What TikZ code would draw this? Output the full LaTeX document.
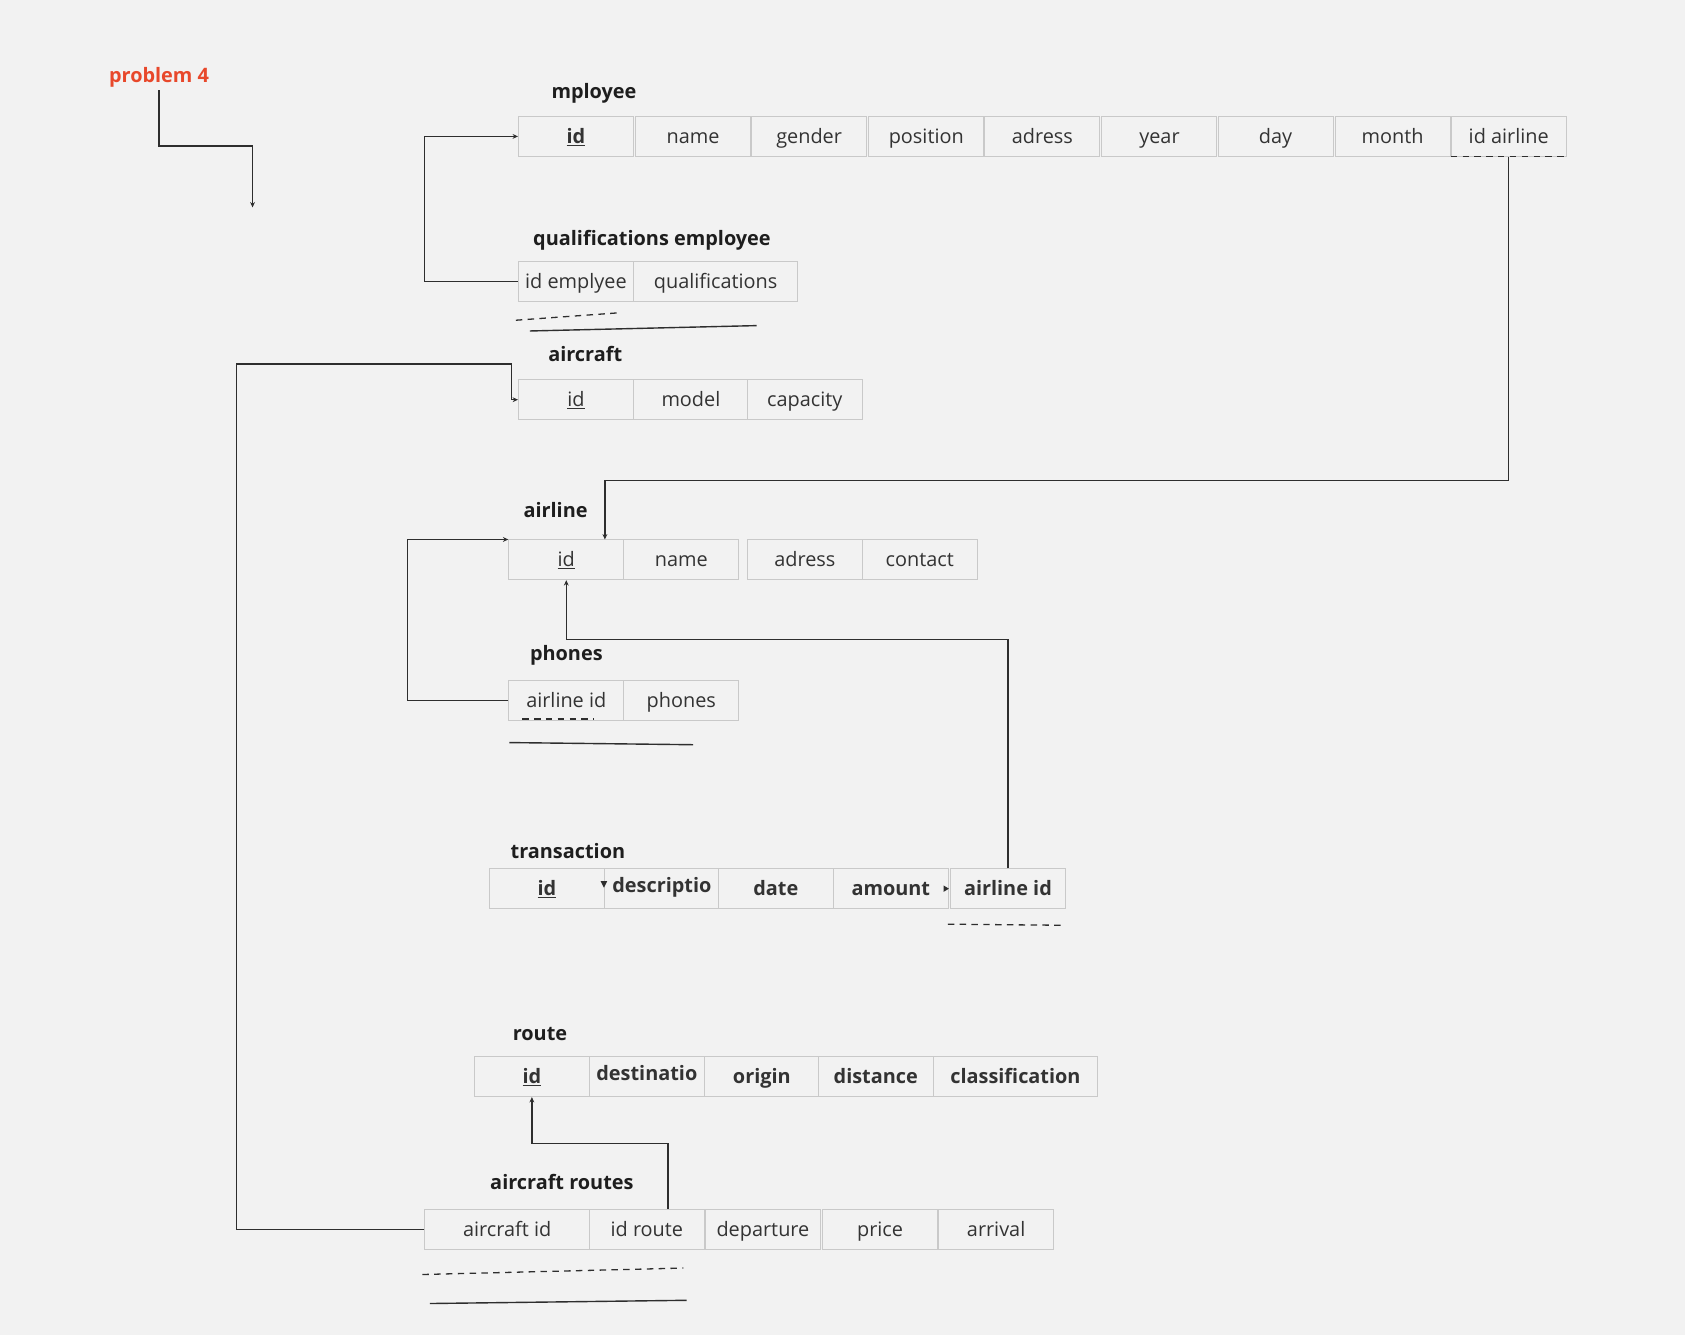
\documentclass[tikz,border=0pt]{standalone}
\usepackage{fontspec}
\setmainfont{Open Sans}
\usetikzlibrary{arrows.meta,calc}
\definecolor{bgcol}{HTML}{F2F2F2}
\definecolor{cellline}{HTML}{C9C9C9}
\definecolor{txtcol}{HTML}{333333}
\definecolor{headcol}{HTML}{1E1E1E}
\definecolor{linecol}{HTML}{2E2E2E}
\definecolor{redtitle}{HTML}{E8482B}
\tikzset{
  cell/.style={draw=cellline, line width=0.9pt, fill=bgcol, anchor=north west,
    minimum width=107pt, minimum height=37pt, inner sep=0pt, text=txtcol,
    text height=14.5pt, text depth=1.5pt,
    font=\fontsize{18.5pt}{22pt}\selectfont},
  widecell/.style={cell, minimum width=153pt},
  bcell/.style={cell, font=\fontsize{18.5pt}{22pt}\selectfont\bfseries},
  tabtitle/.style={anchor=west, inner sep=0pt, text=headcol,
    text height=14.5pt, text depth=1.5pt,
    font=\fontsize{18.5pt}{22pt}\selectfont\bfseries},
  conn/.style={draw=linecol, line width=1.4pt},
  connarrow/.style={conn, -{Stealth[length=5pt,width=4.5pt]}},
  keydash/.style={draw=linecol, line width=1.2pt, dash pattern=on 6pt off 5pt},
  keyline/.style={draw=linecol, line width=1.3pt},
  tip/.style={draw=none, fill=linecol}
}
\begin{document}
\begin{tikzpicture}[x=1pt, y=-1pt]
\fill[bgcol] (0,0) rectangle (1568,1242);
\useasboundingbox (0,0) rectangle (1568,1242);

% heading
\node[anchor=base, inner sep=0pt, text=redtitle,
  font=\fontsize{18.5pt}{22pt}\selectfont\bfseries] (prob) at (148,77) {problem 4};
\coordinate (probend) at (235,193);
\draw[connarrow] ($(prob.base)+(0,7)$) -- ++(0,52) -| (probend);

% employee
\node[tabtitle] (temp) at (513,85) {mployee};
\node[cell] (e1) at (482,108) {\textbf{\underline{id}}};
\node[cell] (e2) at (591,108) {name};
\node[cell] (e3) at (699,108) {gender};
\node[cell] (e4) at (808,108) {position};
\node[cell] (e5) at (916,108) {adress};
\node[cell] (e6) at (1025,108) {year};
\node[cell] (e7) at (1133,108) {day};
\node[cell] (e8) at (1242,108) {month};
\node[cell] (e9) at (1350,108) {id airline};
\draw[keydash] (e9.south west) -- (e9.south east);

% qualifications employee
\node[tabtitle] (tqe) at (496,222) {qualifications employee};
\node[cell] (q1) at (482,243) {id emplyee};
\node[widecell] (q2) at (589,243) {qualifications};
\draw[keydash] (480,298) -- (577,291);
\draw[keyline] (493,308) -- (704,303);

% aircraft
\node[tabtitle] (tac) at (510,330) {aircraft};
\node[cell] (c1) at (482,353) {\underline{id}};
\node[cell] (c2) at (589,353) {model};
\node[cell] (c3) at (695,353) {capacity};

% airline
\node[tabtitle] (tal) at (487,475) {airline};
\node[cell] (a1) at (473,502) {\underline{id}};
\node[cell] (a2) at (580,502) {name};
\node[cell] (a3) at (695,502) {adress};
\node[cell] (a4) at (802,502) {contact};

% phones
\node[tabtitle] (tph) at (493,608) {phones};
\node[cell] (p1) at (473,633) {airline id};
\node[cell] (p2) at (580,633) {phones};
\draw[keydash] (486,669) -- (553,669);
\draw[keyline] (474,691) -- (645,693);

% transaction
\node[tabtitle] (ttr) at (475,792) {transaction};
\node[bcell] (t1) at (455,808) {\underline{id}};
\node[bcell] (t2) at (562,808) {\raisebox{3pt}{descriptio}};
\node[bcell] (t3) at (668,808) {date};
\node[bcell] (t4) at (775,808) {amount};
\node[bcell] (t5) at (884,808) {airline id};
\draw[keydash] (882,860) -- (988,861);
\fill[tip] ($(t2.north west)+(-3,12)$) -- ++(6,0) -- ++(-3,6) -- cycle;
\fill[tip] ($(t5.west)+(-6,-3)$) -- ++(0,6) -- ++(5,-3) -- cycle;

% route
\node[tabtitle] (tro) at (477,962) {route};
\node[bcell] (r1) at (441,983) {\underline{id}};
\node[bcell] (r2) at (548,983) {\raisebox{3pt}{destinatio}};
\node[bcell] (r3) at (655,983) {origin};
\node[bcell] (r4) at (761,983) {distance};
\node[bcell, minimum width=153pt] (r5) at (868,983) {classification};

% aircraft routes
\node[tabtitle] (tar) at (456,1100) {aircraft routes};
\node[widecell] (ar1) at (395,1125) {aircraft id};
\node[cell] (ar2) at (548,1125) {id route};
\node[cell] (ar3) at (656,1125) {departure};
\node[cell] (ar4) at (765,1125) {price};
\node[cell] (ar5) at (873,1125) {arrival};
\draw[keydash] (393,1186) -- (636,1180);
\draw[keyline] (400,1213) -- (639,1210);

% relationships
\draw[connarrow] (q1.west) -- ++(-87,0) |- (e1.west);
\draw[connarrow] (e9.south) -- ++(0,301) -| ($(a1.north east)+(-18,0)$);
\draw[connarrow] (p1.west) -- ++(-94,0) |- (a1.north west);
\draw[connarrow] (t5.north) -- ++(0,-213) -| (a1.south);
\draw[connarrow] (ar1.west) -- ++(-175,0) -- ++(0,-805)
  -- ($(c1.west)+(-6,-33)$) -- ($(c1.west)+(-6,0)$) -- (c1.west);
\draw[connarrow] ($(ar2.north)+(19.5,0)$) -- ++(0,-61) -| (r1.south);
\end{tikzpicture}
\end{document}
